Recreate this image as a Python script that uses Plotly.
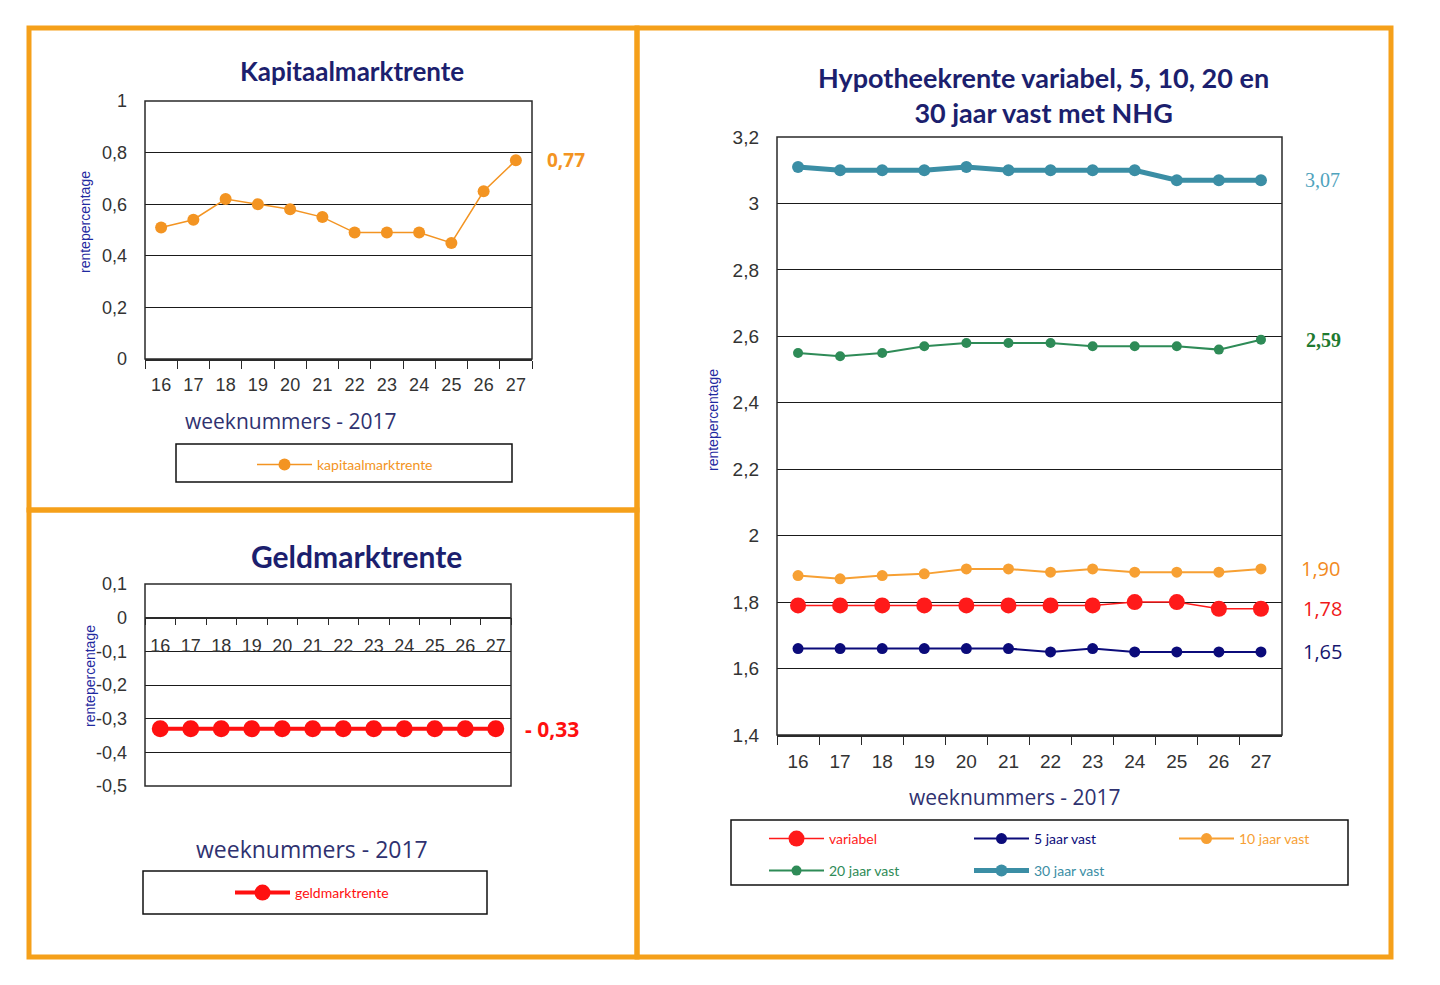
import plotly.graph_objects as go

W, H = 1440, 985

# data
weeks = ["16", "17", "18", "19", "20", "21", "22", "23", "24", "25", "26", "27"]
kapitaalmarktrente = [0.51, 0.54, 0.62, 0.60, 0.58, 0.55, 0.49, 0.49, 0.49, 0.45, 0.65, 0.77]
geldmarktrente = [-0.33, -0.33, -0.33, -0.33, -0.33, -0.33, -0.33, -0.33, -0.33, -0.33, -0.33, -0.33]
variabel = [1.79, 1.79, 1.79, 1.79, 1.79, 1.79, 1.79, 1.79, 1.80, 1.80, 1.78, 1.78]
vast_5 = [1.66, 1.66, 1.66, 1.66, 1.66, 1.66, 1.65, 1.66, 1.65, 1.65, 1.65, 1.65]
vast_10 = [1.88, 1.87, 1.88, 1.885, 1.90, 1.90, 1.89, 1.90, 1.89, 1.89, 1.89, 1.90]
vast_20 = [2.55, 2.54, 2.55, 2.57, 2.58, 2.58, 2.58, 2.57, 2.57, 2.57, 2.56, 2.59]
vast_30 = [3.11, 3.10, 3.10, 3.10, 3.11, 3.10, 3.10, 3.10, 3.10, 3.07, 3.07, 3.07]
geld_ticks = [0.1, 0, -0.1, -0.2, -0.3, -0.4, -0.5]
geld_ticktext = ["0,1", "0", "-0,1", "-0,2", "-0,3", "-0,4", "-0,5"]

ORANGE = "#F39422"
NAVY = "#1C1F6E"
TICKC = "#333333"
FRAME = "#2a2a2a"
BOX = "#F5A01A"


def px(x):
    return x / W


def py(y):
    return 1 - y / H


def fmt(v):
    return f"{abs(v):.2f}".replace(".", ",")


fig = go.Figure()

# kapitaalmarktrente
fig.add_trace(go.Scatter(x=weeks, y=kapitaalmarktrente, mode="lines+markers", xaxis="x", yaxis="y",
                         name=f'<span style="color:{ORANGE}">kapitaalmarktrente</span>', legend="legend",
                         line=dict(color=ORANGE, width=1.5), marker=dict(size=12, color=ORANGE)))
# geldmarktrente
fig.add_trace(go.Scatter(x=weeks, y=geldmarktrente, mode="lines+markers", xaxis="x2", yaxis="y2",
                         name='<span style="color:#FF1010">geldmarktrente</span>', legend="legend2",
                         line=dict(color="#FF1010", width=4), marker=dict(size=17, color="#FF1010")))
# hypotheekrente
series = [
    ("variabel", variabel, "#FF1A1A", 1.5, 16, "legend3"),
    ("5 jaar vast", vast_5, "#0B0B7A", 2, 11, "legend3"),
    ("10 jaar vast", vast_10, "#F7A033", 2, 11, "legend3"),
    ("20 jaar vast", vast_20, "#2E8B57", 2, 10, "legend4"),
    ("30 jaar vast", vast_30, "#3B8EA5", 5, 12, "legend4"),
]
for name, vals, col, lw, ms, leg in series:
    fig.add_trace(go.Scatter(x=weeks, y=vals, mode="lines+markers", xaxis="x3", yaxis="y3",
                             name=f'<span style="color:{col}">{name}</span>', legend=leg,
                             line=dict(color=col, width=lw), marker=dict(size=ms, color=col)))

tickfont = dict(family="Liberation Sans, Arial", size=18, color=TICKC)

d1y = [py(359), py(101)]
d2y = [py(786), py(584)]
zero_pos = d2y[0] + (0 - (-0.5)) / 0.6 * (d2y[1] - d2y[0])
cat_range = [-0.5, len(weeks) - 0.5]

xcat = dict(type="category", range=cat_range, tickson="boundaries", ticks="outside", ticklen=8,
            tickcolor=FRAME, showline=True, linecolor=FRAME, linewidth=1.5, showgrid=False,
            zeroline=False, tickfont=tickfont, tickangle=0, automargin=False, ticklabelstandoff=9)
ycommon = dict(showline=False, ticks="", gridcolor="#1a1a1a", gridwidth=1, zeroline=False,
               tickfont=tickfont, ticklabelstandoff=17, automargin=False)

fig.update_layout(
    width=W, height=H, margin=dict(l=0, r=0, t=0, b=0, autoexpand=False),
    paper_bgcolor="white", plot_bgcolor="white", separators=",.",
    xaxis=dict(xcat, domain=[px(145), px(532)], anchor="y"),
    yaxis=dict(ycommon, domain=d1y, range=[0, 1], dtick=0.2, anchor="x"),
    xaxis2=dict(xcat, domain=[px(145), px(511)], anchor="free", position=zero_pos, ticklen=7,
                ticklabelstandoff=12),
    yaxis2=dict(ycommon, domain=d2y, range=[-0.5, 0.1], tickvals=geld_ticks, ticktext=geld_ticktext,
                anchor="x2"),
    xaxis3=dict(xcat, domain=[px(777), px(1282)], anchor="y3", tickfont=dict(tickfont, size=19),
                ticklabelstandoff=8),
    yaxis3=dict(ycommon, domain=[py(735), py(137)], range=[1.4, 3.2], dtick=0.2, anchor="x3",
                tickfont=dict(tickfont, size=19)),
    showlegend=True,
)

legfont = dict(family="Lato, Open Sans", size=14)
legbase = dict(orientation="h", bgcolor="rgba(0,0,0,0)", borderwidth=0, font=legfont,
               xanchor="left", yanchor="middle", itemclick=False, itemwidth=55)
fig.update_layout(
    legend=dict(legbase, x=px(252), y=py(465)),
    legend2=dict(legbase, x=px(230), y=py(893)),
    legend3=dict(legbase, x=px(764), y=py(839), entrywidth=135),
    legend4=dict(legbase, x=px(764), y=py(871), entrywidth=135),
)

shapes = [
    # orange panel borders
    dict(type="rect", xref="paper", yref="paper", x0=px(29), x1=px(637), y0=py(510), y1=py(28),
         line=dict(color=BOX, width=5)),
    dict(type="rect", xref="paper", yref="paper", x0=px(29), x1=px(637), y0=py(957), y1=py(510),
         line=dict(color=BOX, width=5)),
    dict(type="rect", xref="paper", yref="paper", x0=px(637), x1=px(1391), y0=py(957), y1=py(28),
         line=dict(color=BOX, width=5)),
    # legend boxes
    dict(type="rect", xref="paper", yref="paper", x0=px(176), x1=px(512), y0=py(482), y1=py(444),
         line=dict(color="#111", width=1.5)),
    dict(type="rect", xref="paper", yref="paper", x0=px(143), x1=px(487), y0=py(914), y1=py(871),
         line=dict(color="#111", width=1.5)),
    dict(type="rect", xref="paper", yref="paper", x0=px(731), x1=px(1348), y0=py(885), y1=py(820),
         line=dict(color="#111", width=1.5)),
]
for xr, yr in [("x", "y"), ("x2", "y2"), ("x3", "y3")]:
    shapes.append(dict(type="rect", xref=f"{xr} domain", yref=f"{yr} domain", x0=0, x1=1, y0=0, y1=1,
                       line=dict(color=FRAME, width=1.5), layer="above"))
fig.update_layout(shapes=shapes)

titlefont = dict(family="Lato, Open Sans", color=NAVY)
axisfont = dict(family="Open Sans, Lato", color="#2F3270")
ylabfont = dict(family="Liberation Sans, Arial", size=14, color="#1f2aa0")

ann = [
    dict(text="<b>Kapitaalmarktrente</b>", x=px(352), y=py(71), font=dict(titlefont, size=26)),
    dict(text="<b>Geldmarktrente</b>", x=px(356), y=py(556), font=dict(titlefont, size=30)),
    dict(text="<b>Hypotheekrente variabel, 5, 10, 20 en</b><br><b>30 jaar vast met NHG</b>",
         x=px(1043), y=py(95), font=dict(titlefont, size=27)),
    dict(text="weeknummers - 2017", x=px(291), y=py(421), font=dict(axisfont, size=21)),
    dict(text="weeknummers - 2017", x=px(312), y=py(849), font=dict(axisfont, size=23)),
    dict(text="weeknummers - 2017", x=px(1015), y=py(797), font=dict(axisfont, size=21)),
    dict(text="rentepercentage", x=px(85), y=py(222), textangle=-90, font=ylabfont),
    dict(text="rentepercentage", x=px(90), y=py(676), textangle=-90, font=ylabfont),
    dict(text="rentepercentage", x=px(713), y=py(420), textangle=-90, font=ylabfont),
]
for a in ann:
    a.update(xref="paper", yref="paper", showarrow=False, xanchor="center", yanchor="middle")

# end-of-series value labels
vals = [
    (fmt(kapitaalmarktrente[-1]), kapitaalmarktrente[-1], "y", 566, ORANGE, "Open Sans, Lato", 19, True),
    ("- " + fmt(geldmarktrente[-1]), geldmarktrente[-1], "y2", 552, "#FF1010", "Open Sans, Lato", 21, True),
    (fmt(vast_30[-1]), vast_30[-1], "y3", 1322, "#4FA3BD", "Liberation Serif, Times New Roman", 20, False),
    (fmt(vast_20[-1]), vast_20[-1], "y3", 1323, "#1E7A30", "Liberation Serif, Times New Roman", 20, True),
    (fmt(vast_10[-1]), vast_10[-1], "y3", 1320, "#F28A1E", "Open Sans, Lato", 20, False),
    (fmt(variabel[-1]), variabel[-1], "y3", 1322, "#F01818", "Open Sans, Lato", 20, False),
    (fmt(vast_5[-1]), vast_5[-1], "y3", 1322, "#16166E", "Open Sans, Lato", 20, False),
]
for txt, v, yr, xpix, col, fam, sz, bold in vals:
    ann.append(dict(text=f"<b>{txt}</b>" if bold else txt, x=px(xpix), y=v, xref="paper", yref=yr,
                    showarrow=False, xanchor="center", yanchor="middle",
                    font=dict(family=fam, size=sz, color=col)))

fig.update_layout(annotations=ann)

# no page margin, so the 1440x985 figure fills the window exactly
fig.write_html("out.html", config={"displayModeBar": False},
               post_script="document.body.style.margin='0';")
